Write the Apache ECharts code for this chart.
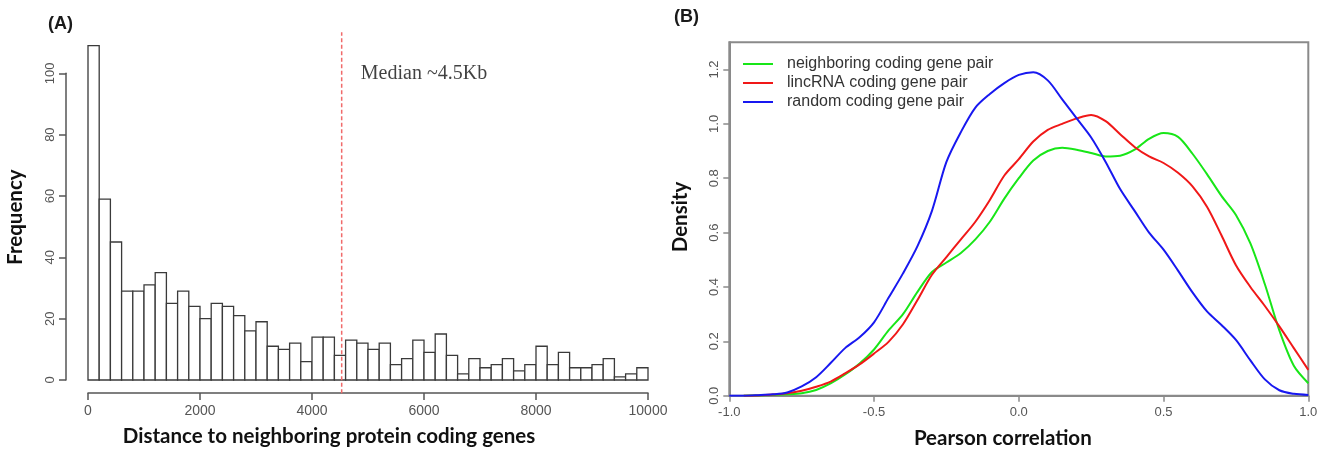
<!DOCTYPE html>
<html>
<head>
<meta charset="utf-8">
<script src="https://cdn.jsdelivr.net/npm/echarts@6/dist/echarts.min.js"></script>
<style>
  html, body { margin: 0; padding: 0; background: #ffffff; }
  #chart { width: 1326px; height: 449px; }
</style>
</head>
<body>
<div id="chart"></div>
<script>
// ---- Panel A: distance (bp) to the neighbouring protein-coding gene ----
const distBinWidth = 200;
const distCounts = [109, 59, 45, 29, 29, 31, 35, 25, 29, 24,
                    20, 25, 24, 21, 16, 19, 11, 10, 12, 6,
                    14, 14, 8, 13, 12, 10, 12, 5, 7, 13,
                    9, 15, 8, 2, 7, 4, 5, 7, 3, 5,
                    11, 5, 9, 4, 4, 5, 7, 1, 2, 4];
const distTicks = [0, 2000, 4000, 6000, 8000, 10000];
const freqTicks = [0, 20, 40, 60, 80, 100];
const medianDistance = 4530;
const medianLabel = 'Median ~4.5Kb';
const medianLabelAt = [6000, 100];

// ---- Panel B: density of Pearson correlation between gene pairs ----
const corrGrid = [-1.00, -0.95, -0.90, -0.85, -0.80, -0.75, -0.70, -0.65, -0.60, -0.55,
                  -0.50, -0.45, -0.40, -0.35, -0.30, -0.25, -0.20, -0.15, -0.10, -0.05,
                   0.00,  0.05,  0.10,  0.15,  0.20,  0.25,  0.30,  0.35,  0.40,  0.45,
                   0.50,  0.55,  0.60,  0.65,  0.70,  0.75,  0.80,  0.85,  0.90,  0.95, 1.00];
const neighboringDensity = [null, 0, 0.001, 0.003, 0.005, 0.009, 0.021, 0.045, 0.078, 0.118,
                            0.17, 0.24, 0.30, 0.382, 0.455, 0.49, 0.525, 0.575, 0.64, 0.725,
                            0.80, 0.865, 0.90, 0.912, 0.905, 0.893, 0.88, 0.883, 0.905, 0.945,
                            0.966, 0.952, 0.89, 0.815, 0.735, 0.665, 0.56, 0.41, 0.24, 0.11, 0.046];
const lincrnaDensity = [null, 0, 0.001, 0.004, 0.009, 0.018, 0.033, 0.052, 0.082, 0.115,
                        0.155, 0.198, 0.263, 0.352, 0.445, 0.51, 0.575, 0.64, 0.72, 0.81,
                        0.87, 0.935, 0.978, 1.00, 1.02, 1.033, 1.01, 0.962, 0.915, 0.88,
                        0.856, 0.82, 0.77, 0.695, 0.59, 0.48, 0.40, 0.33, 0.255, 0.175, 0.095];
const randomDensity = [0, 0, 0.002, 0.005, 0.012, 0.034, 0.068, 0.12, 0.175, 0.215,
                       0.27, 0.36, 0.45, 0.55, 0.68, 0.86, 0.97, 1.06, 1.11, 1.15,
                       1.18, 1.19, 1.16, 1.09, 1.02, 0.95, 0.86, 0.76, 0.68, 0.60,
                       0.537, 0.46, 0.38, 0.31, 0.26, 0.205, 0.13, 0.06, 0.02, 0.007, 0.003];
const corrTicks = [-1.0, -0.5, 0.0, 0.5, 1.0];
const densityTicks = [0, 0.2, 0.4, 0.6, 0.8, 1.0, 1.2];
const seriesNames = ['neighboring coding gene pair', 'lincRNA coding gene pair', 'random coding gene pair'];

// histogram rows: [bin start, bin end, count]
const histRows = distCounts.map((n, i) => [i * distBinWidth, (i + 1) * distBinWidth, n]);
// R-style plot region extends 4% beyond the data range
const histMax = Math.max(...distCounts);
const regionTop = histMax * 1.04;
const regionBottom = -histMax * 0.04;

function pairs(values) {
  return corrGrid.map((x, i) => [x, values[i]]).filter(p => p[1] !== null);
}

const tickFont = 'Liberation Sans, Arial, sans-serif';
const titleFont = 'Lato, Open Sans, sans-serif';
const axisGrey = '#555555';
const frameGrey = '#8a8a8a';
const titleStyle = { fontFamily: titleFont, fontWeight: 'bold', fontSize: 20.5, color: '#111111' };

const chart = echarts.init(document.getElementById('chart'), null, { renderer: 'canvas' });

chart.setOption({
  animation: false,
  backgroundColor: '#ffffff',
  graphic: [
    { type: 'text', left: 48, top: 15,
      style: { text: '(A)', font: 'bold 18px Liberation Sans, Arial, sans-serif', fill: '#1a1a1a' } },
    { type: 'text', left: 674, top: 8,
      style: { text: '(B)', font: 'bold 18px Liberation Sans, Arial, sans-serif', fill: '#1a1a1a' } }
  ],
  grid: [
    // 0: histogram bars
    { left: 88, top: 73.3, width: 560, height: 306.7, containLabel: false, outerBoundsMode: 'none' },
    // 1: density curves, boxed
    { left: 729.3, top: 42.3, width: 579, height: 353.4, containLabel: false, outerBoundsMode: 'none',
      show: true, borderColor: frameGrey, borderWidth: 2, backgroundColor: 'transparent' },
    // 2: frequency axis, set off to the left of the bars
    { left: 66, top: 73.3, width: 582, height: 306.7, containLabel: false, outerBoundsMode: 'none' }
  ],
  legend: {
    data: seriesNames,
    orient: 'vertical',
    left: 743, top: 56,
    padding: 0,
    icon: 'rect',
    itemWidth: 30, itemHeight: 2, itemGap: 3,
    textStyle: { fontFamily: tickFont, fontSize: 16, color: '#333333', padding: [0, 0, 0, 9] }
  },
  xAxis: [
    {
      type: 'value', gridIndex: 0, min: 0, max: 10000, interval: 2000, offset: 13,
      axisLine: { onZero: false, lineStyle: { color: axisGrey, width: 1.5 } },
      axisTick: { length: 7, customValues: distTicks, lineStyle: { color: axisGrey, width: 1.5 } },
      axisLabel: { customValues: distTicks, margin: 11, color: '#555555', fontSize: 14, fontFamily: tickFont,
                   formatter: v => String(v) },
      splitLine: { show: false },
      name: 'Distance to neighboring protein coding genes',
      nameLocation: 'middle', nameGap: 33,
      nameTextStyle: Object.assign({ padding: [0, 78, 0, 0] }, titleStyle)
    },
    {
      type: 'value', gridIndex: 1, min: -1, max: 1, interval: 0.5,
      axisLine: { onZero: false, lineStyle: { color: frameGrey, width: 2 } },
      axisTick: { length: 6, customValues: corrTicks, lineStyle: { color: frameGrey, width: 1.5 } },
      axisLabel: { customValues: corrTicks, margin: 10, color: '#555555', fontSize: 13, fontFamily: tickFont,
                   formatter: v => v.toFixed(1) },
      splitLine: { show: false },
      name: 'Pearson correlation',
      nameLocation: 'middle', nameGap: 32,
      nameTextStyle: Object.assign({ padding: [0, 32, 0, 0] }, titleStyle)
    },
    { type: 'value', gridIndex: 2, min: 0, max: 1, show: false }
  ],
  yAxis: [
    { type: 'value', gridIndex: 0, min: 0, max: 100, show: false },
    {
      type: 'value', gridIndex: 1, min: 0, max: 1.3, interval: 0.2,
      axisLine: { show: true, onZero: false, lineStyle: { color: frameGrey, width: 2 } },
      axisTick: { show: true, length: 6, customValues: densityTicks, lineStyle: { color: frameGrey, width: 1.5 } },
      axisLabel: { customValues: densityTicks, margin: 8, rotate: 90, color: '#555555', fontSize: 13, fontFamily: tickFont,
                   formatter: v => v.toFixed(1) },
      splitLine: { show: false },
      name: 'Density',
      nameLocation: 'middle', nameGap: 38,
      nameTextStyle: Object.assign({ padding: [0, 0, 0, 4] }, titleStyle)
    },
    {
      type: 'value', gridIndex: 2, min: 0, max: 100, interval: 20,
      axisLine: { show: true, onZero: false, lineStyle: { color: axisGrey, width: 1.5 } },
      axisTick: { show: true, length: 7, customValues: freqTicks, lineStyle: { color: axisGrey, width: 1.5 } },
      axisLabel: { customValues: freqTicks, margin: 9, rotate: 90, color: '#555555', fontSize: 13, fontFamily: tickFont },
      splitLine: { show: false },
      name: 'Frequency',
      nameLocation: 'middle', nameGap: 40,
      nameTextStyle: Object.assign({ padding: [0, 0, 0, 19] }, titleStyle)
    }
  ],
  series: [
    {
      type: 'custom', xAxisIndex: 0, yAxisIndex: 0, clip: false, silent: true,
      data: histRows,
      encode: { x: [0, 1], y: 2 },
      renderItem: function (params, api) {
        const topLeft = api.coord([api.value(0), api.value(2)]);
        const bottomRight = api.coord([api.value(1), 0]);
        return {
          type: 'rect',
          shape: { x: topLeft[0], y: topLeft[1], width: bottomRight[0] - topLeft[0], height: bottomRight[1] - topLeft[1] },
          style: { fill: '#ffffff', stroke: '#3a3a3a', lineWidth: 1.3 }
        };
      }
    },
    {
      type: 'line', xAxisIndex: 0, yAxisIndex: 0, clip: false, silent: true,
      symbol: 'none',
      data: [[medianDistance, regionBottom], [medianDistance, regionTop]],
      lineStyle: { color: '#f06a6a', width: 1.5, type: [4, 2.5] }
    },
    {
      type: 'scatter', xAxisIndex: 0, yAxisIndex: 0, silent: true,
      symbolSize: 0,
      data: [medianLabelAt],
      label: { show: true, position: 'inside', formatter: medianLabel,
               fontFamily: 'Liberation Serif, Times New Roman, serif', fontSize: 20, color: '#111111' }
    },
    {
      name: seriesNames[0], type: 'line', xAxisIndex: 1, yAxisIndex: 1,
      symbol: 'none', smooth: 0.3, data: pairs(neighboringDensity),
      lineStyle: { color: '#18e618', width: 2 }, itemStyle: { color: '#18e618' }
    },
    {
      name: seriesNames[1], type: 'line', xAxisIndex: 1, yAxisIndex: 1,
      symbol: 'none', smooth: 0.3, data: pairs(lincrnaDensity),
      lineStyle: { color: '#f01818', width: 2 }, itemStyle: { color: '#f01818' }
    },
    {
      name: seriesNames[2], type: 'line', xAxisIndex: 1, yAxisIndex: 1,
      symbol: 'none', smooth: 0.3, data: pairs(randomDensity),
      lineStyle: { color: '#1818f0', width: 2 }, itemStyle: { color: '#1818f0' }
    }
  ]
});
</script>
</body>
</html>
